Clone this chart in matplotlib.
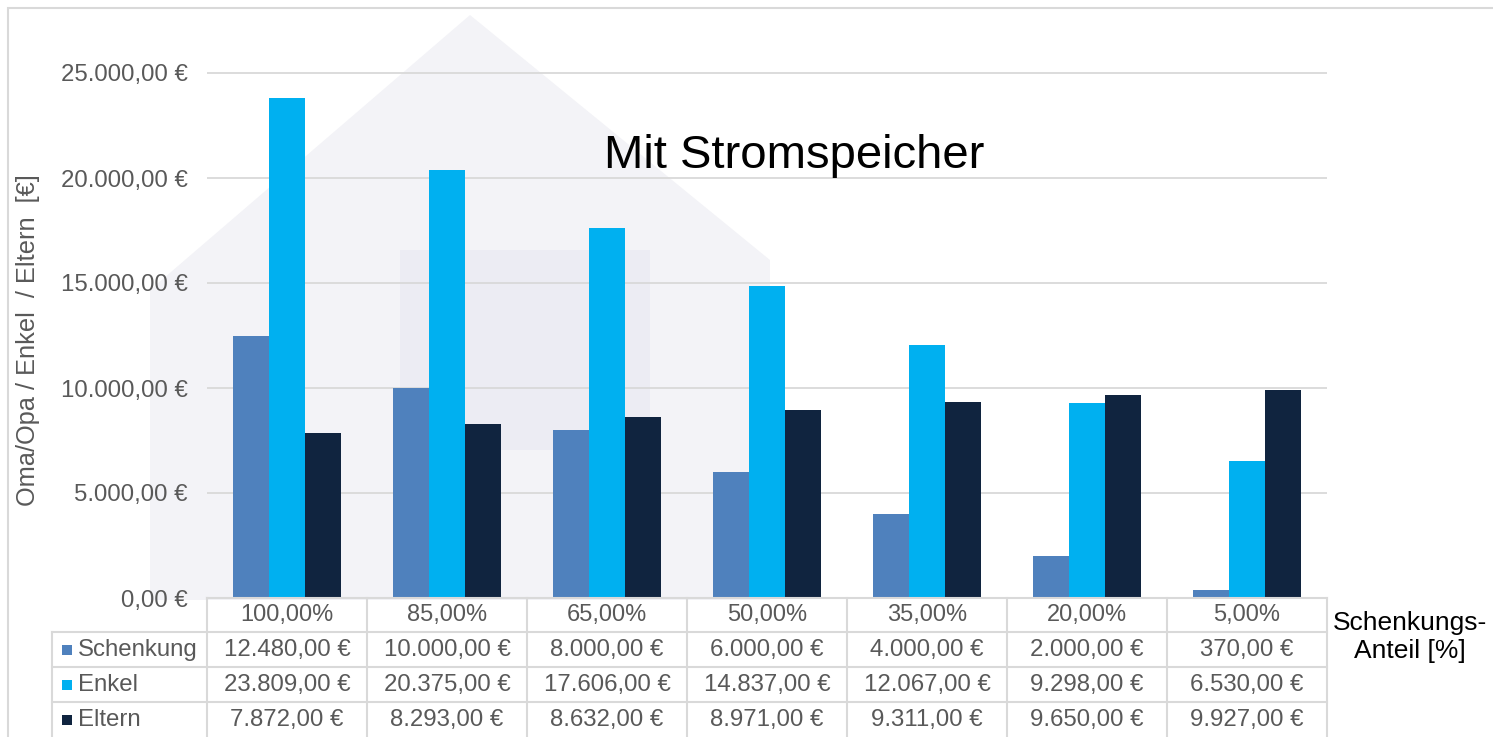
import matplotlib
matplotlib.use("Agg")
import matplotlib.pyplot as plt
import numpy as np
from matplotlib.lines import Line2D
from matplotlib.patches import Rectangle, Polygon

# ---------------- data ----------------
shares = [100, 85, 65, 50, 35, 20, 5]           # Schenkungs-Anteil [%]
schenkung = [12480, 10000, 8000, 6000, 4000, 2000, 370]
enkel = [23809, 20375, 17606, 14837, 12067, 9298, 6530]
eltern = [7872, 8293, 8632, 8971, 9311, 9650, 9927]
series_names = ["Schenkung", "Enkel", "Eltern"]
y_ticks = [0, 5000, 10000, 15000, 20000, 25000]
title = "Mit Stromspeicher"
y_label = "Oma/Opa / Enkel  / Eltern  [€]"
x_label = "Schenkungs-\nAnteil [%]"

colors = ["#4F81BD", "#00B0F0", "#10243F"]
txt_col = "#595959"
grid_col = "#D9D9D9"

plt.rcParams['font.family'] = ['Liberation Sans', 'DejaVu Sans']

W, H = 1493, 737
fig = plt.figure(figsize=(W / 100, H / 100), dpi=100)
fig.patch.set_facecolor("white")


def fx(x):
    return x / W


def fy(y):
    return 1 - y / H


def eur(v):
    s = f"{v:,.2f}".replace(",", "X").replace(".", ",").replace("X", ".")
    return s + " €"


def pct(v):
    return f"{v:.2f}".replace(".", ",") + "%"


# faint watermark-like background shapes
house = Polygon([(fx(150), fy(600)), (fx(150), fy(290)), (fx(470), fy(15)),
                 (fx(770), fy(260)), (fx(770), fy(600))],
                closed=True, transform=fig.transFigure, facecolor="#F3F3F7",
                edgecolor="none", zorder=0)
fig.add_artist(house)
fig.add_artist(Rectangle((fx(400), fy(450)), fx(250), fy(250) - fy(450),
                         transform=fig.transFigure, facecolor="#ECECF3",
                         edgecolor="none", zorder=0))

# chart border
fig.add_artist(Rectangle((fx(8), fy(800)), fx(1600), fy(8) - fy(800),
                         transform=fig.transFigure, facecolor="none",
                         edgecolor=grid_col, linewidth=1.5, zorder=1))

# ---------------- axes ----------------
x0_px, x1_px = 207, 1327
y0_px, top_px = 598, 60
ax = fig.add_axes([fx(x0_px), fy(y0_px), fx(x1_px) - fx(x0_px), fy(top_px) - fy(y0_px)])
ax.patch.set_alpha(0)
n = len(shares)
px_per_unit = (598 - 73) / 25000
ax.set_ylim(0, (y0_px - top_px) / px_per_unit)
ax.set_xlim(-0.5, n - 0.5)

x = np.arange(n)
bw = 0.224
for i, (vals, c) in enumerate(zip([schenkung, enkel, eltern], colors)):
    ax.bar(x + (i - 1) * bw, vals, width=bw, color=c, zorder=3, linewidth=0)

ax.set_yticks(y_ticks)
ax.set_yticklabels([eur(v) for v in y_ticks], fontsize=17.3, color=txt_col)
ax.tick_params(axis='y', length=0, pad=14)
ax.set_xticks([])
ax.yaxis.grid(True, color=grid_col, linewidth=1.3, zorder=0)
ax.set_axisbelow(True)
for s in ax.spines.values():
    s.set_visible(False)

fig.text(fx(794), fy(168), title, fontsize=34, color="black",
         ha="center", va="baseline")

fig.text(fx(28), fy(340), y_label, rotation=90, fontsize=18.3,
         color=txt_col, ha="center", va="center")

# ---------------- data table ----------------
col_w = (x1_px - x0_px) / n
rows_y = [598, 632, 667, 702, 737]
leg_x = 52


def hline(y, xa, xb):
    fig.add_artist(Line2D([fx(xa), fx(xb)], [fy(y), fy(y)], transform=fig.transFigure,
                          color=grid_col, linewidth=1.5, zorder=2))


def vline(x_, ya, yb):
    fig.add_artist(Line2D([fx(x_), fx(x_)], [fy(ya), fy(yb)], transform=fig.transFigure,
                          color=grid_col, linewidth=1.5, zorder=2))


hline(598, x0_px, x1_px)
for y in rows_y[1:4]:
    hline(y, leg_x, x1_px)
for k in range(n + 1):
    vline(x0_px + k * col_w, 598, 737)
vline(leg_x, 632, 737)

for k, s in enumerate(shares):
    cx = x0_px + (k + 0.5) * col_w
    fig.text(fx(cx), fy(615), pct(s), fontsize=17, color=txt_col,
             ha="center", va="center")

row_centers = [650, 685, 720]
for r, (name, vals, c) in enumerate(zip(series_names, [schenkung, enkel, eltern], colors)):
    yc = row_centers[r]
    fig.add_artist(Rectangle((fx(62), fy(yc + 5)), fx(10), fy(yc - 5) - fy(yc + 5),
                             transform=fig.transFigure, facecolor=c,
                             edgecolor="none", zorder=3))
    fig.text(fx(78), fy(yc), name, fontsize=17.3, color=txt_col,
             ha="left", va="center")
    for k, v in enumerate(vals):
        cx = x0_px + (k + 0.5) * col_w
        fig.text(fx(cx), fy(yc), eur(v), fontsize=17.3, color=txt_col,
                 ha="center", va="center")

fig.text(fx(1410), fy(637), x_label, fontsize=19, color="black",
         ha="center", va="center", linespacing=1.2, multialignment="center")

fig.savefig("out.png", dpi=100, facecolor="white")
